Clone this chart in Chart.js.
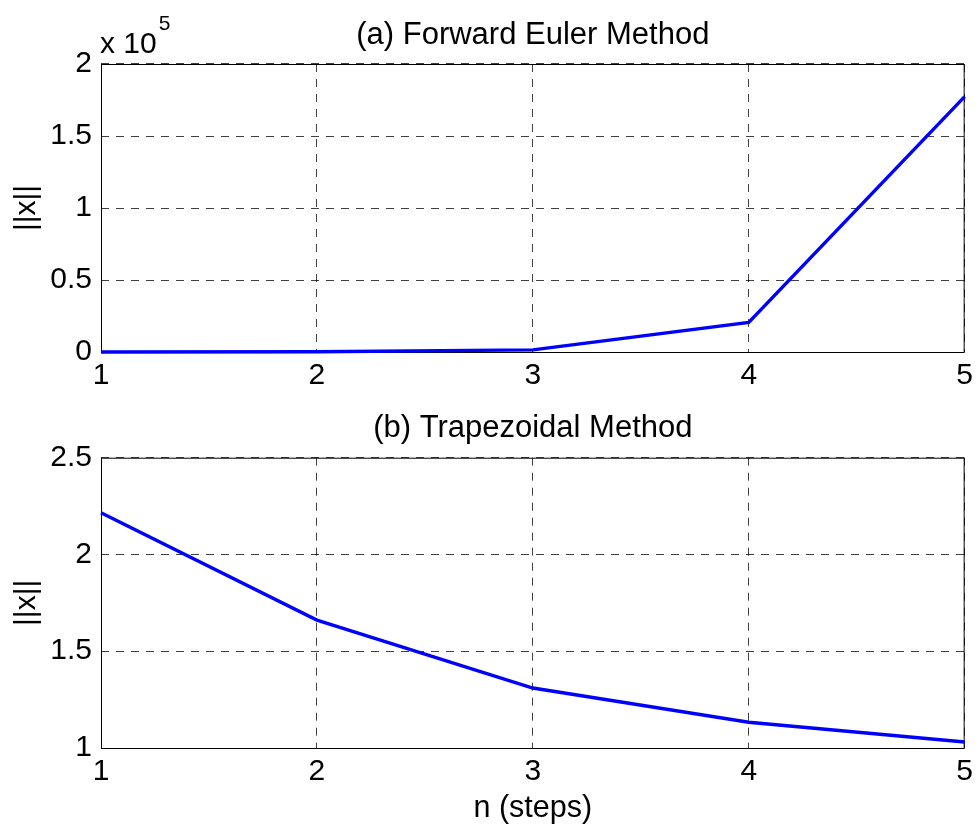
<!DOCTYPE html>
<html lang="en">
<head>
  <meta charset="UTF-8">
  <title>Forward Euler vs Trapezoidal</title>
  <script src="https://cdn.jsdelivr.net/npm/chart.js"></script>
  <style>
    body, html {
      margin: 0;
      background: #fff;
    }
    .wrap {
      position: relative;
      width: 979px;
      height: 827px;
    }
    .panel {
      position: absolute;
      left: 0;
      width: 979px;
    }
  </style>
</head>
<body>
  <div class="wrap">
    <div class="panel" style="top:0;height:400px"><canvas id="eulerChart"></canvas></div>
    <div class="panel" style="top:400px;height:427px"><canvas id="trapChart"></canvas></div>
  </div>

  <script>
    // data
    const steps = [1, 2, 3, 4, 5];
    const eulerNorm = [2.2, 160, 1500, 20600, 177300];
    const trapNorm = [2.216, 1.661, 1.31, 1.133, 1.031];

    // tick labels
    const eulerTicks = [0, 0.5, 1, 1.5, 2];   // shown in units of 1e5
    const eulerExponent = 5;
    const trapTicks = [1, 1.5, 2, 2.5];

    const FONT = "'Liberation Sans', Arial, Helvetica, sans-serif";
    const gridDash = [8, 7];
    const gridColor = 'rgba(0,0,0,0.75)';

    // solid box round the plot area, like a matlab axes
    const boxPlugin = {
      id: 'box',
      beforeDatasetsDraw(chart) {
        const { ctx, chartArea: a } = chart;
        ctx.save();
        ctx.strokeStyle = '#000';
        ctx.lineWidth = 1;
        ctx.strokeRect(a.left + 0.5, a.top + 0.5, a.right - a.left - 1, a.bottom - a.top);
        ctx.restore();
      }
    };

    // "x 10^5" multiplier over the y axis
    const exponentPlugin = {
      id: 'exponent',
      afterDraw(chart) {
        if (chart.canvas.id !== 'eulerChart') return;
        const { ctx, chartArea: a } = chart;
        ctx.save();
        ctx.fillStyle = '#000';
        ctx.textBaseline = 'alphabetic';
        ctx.font = '30px ' + FONT;
        const base = 'x 10';
        ctx.fillText(base, a.left - 1, 53);
        const w = ctx.measureText(base).width;
        ctx.font = '21px ' + FONT;
        ctx.fillText(String(eulerExponent), a.left + w + 1, 30);
        ctx.restore();
      }
    };

    function makeChart(id, values, ticks, tickScale, title, opts) {
      const ctx = document.getElementById(id).getContext('2d');
      return new Chart(ctx, {
        type: 'line',
        data: {
          labels: steps.map(String),
          datasets: [{
            data: values,
            borderColor: '#0000ff',
            borderWidth: 3.4,
            pointRadius: 0,
            tension: 0,
            clip: false
          }]
        },
        options: {
          responsive: true,
          maintainAspectRatio: false,
          animation: false,
          layout: { padding: { left: 0, right: 10.5, top: 0, bottom: 0 } },
          plugins: {
            legend: { display: false },
            tooltip: { enabled: false },
            title: {
              display: true,
              text: title,
              fullSize: false,
              color: '#000',
              font: { family: FONT, size: 31, weight: 'normal', lineHeight: 1.2 },
              padding: opts.titlePad
            }
          },
          scales: {
            x: {
              offset: false,
              grid: { color: gridColor, tickLength: 0, drawTicks: false },
              border: { display: false, dash: gridDash },
              ticks: { color: '#000', padding: 6, maxRotation: 0, font: { family: FONT, size: 30 } },
              title: {
                display: !!opts.xTitle,
                text: opts.xTitle || '',
                color: '#000',
                padding: { top: 0, bottom: 0 },
                font: { family: FONT, size: 30.5, lineHeight: 1.2 }
              },
              afterFit(scale) { scale.height = opts.xHeight; }
            },
            y: {
              min: ticks[0] * tickScale,
              max: ticks[ticks.length - 1] * tickScale,
              border: { display: false, dash: gridDash },
              grid: { color: gridColor, drawTicks: false, tickLength: 0 },
              ticks: {
                color: '#000',
                padding: 9,
                font: { family: FONT, size: 30 },
                callback: v => String(+(v / tickScale).toFixed(3))
              },
              afterBuildTicks(scale) {
                scale.ticks = ticks.map(t => ({ value: t * tickScale }));
              },
              title: {
                display: true,
                text: '||x||',
                color: '#000',
                padding: { top: 9, bottom: 0 },
                font: { family: FONT, size: 30, lineHeight: 1.2 }
              },
              afterFit(scale) { scale.width = 101; }
            }
          }
        },
        plugins: [boxPlugin, exponentPlugin]
      });
    }

    makeChart('eulerChart', eulerNorm, eulerTicks, Math.pow(10, eulerExponent),
      '(a) Forward Euler Method',
      { titlePad: { top: 16.4, bottom: 10.4 }, xHeight: 48 });

    makeChart('trapChart', trapNorm, trapTicks, 1,
      '(b) Trapezoidal Method',
      { titlePad: { top: 9.4, bottom: 11.1 }, xHeight: 79, xTitle: 'n (steps)' });
  </script>
</body>
</html>
